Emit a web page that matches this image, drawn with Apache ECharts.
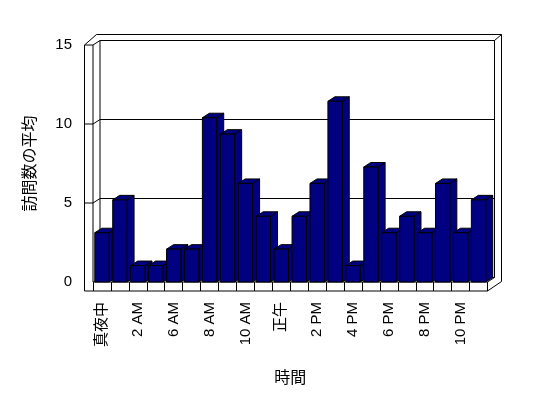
<!DOCTYPE html>
<html>
<head>
<meta charset="utf-8">
<script src="https://cdn.jsdelivr.net/npm/echarts@6/dist/echarts.min.js"></script>
<style>
html, body { margin: 0; padding: 0; background: #fff; }
#main { width: 548px; height: 398px; }
</style>
</head>
<body>
<div id="main"></div>
<script>
// 時間帯ごとの訪問数の平均
var hours = ['真夜中', '1 AM', '2 AM', '4 AM', '6 AM', '7 AM', '8 AM', '9 AM', '10 AM', '11 AM', '正午',
             '1 PM', '2 PM', '3 PM', '4 PM', '5 PM', '6 PM', '7 PM', '8 PM', '9 PM', '10 PM', '11 PM'];
var visits = [3, 5, 1, 1, 2, 2, 10, 9, 6, 4, 2, 4, 6, 11, 1, 7, 3, 4, 3, 6, 3, 5];
var yTicks = [0, 5, 10, 15];

var FONT = '"Liberation Sans", "Noto Sans CJK JP", sans-serif';
var DX = 7, DY = -4.5;   // 奥行き

var myChart = echarts.init(document.getElementById('main'));

// 枠（壁と床）
function renderFrame(params, api) {
    var cs = params.coordSys;
    var L = cs.x, R = cs.x + cs.width, T = cs.y, B = cs.y + cs.height;
    var OL = L - 8.5, FB = B + 9, OT = T + DY - 6, OR = R + DX + 7;
    var st = { stroke: '#000', lineWidth: 1, fill: null };
    var lines = [
        [[OL, FB], [OL, T], [L + 3.5, OT], [OR, OT], [OR, FB - 9.5], [R, FB], [OL, FB]],
        [[L, T], [L, B]],
        [[OL, T], [L, T], [L + DX, T + DY]],
        [[L + DX, T + DY], [L + DX, B + DY]],
        [[L + DX, T + DY], [R + DX, T + DY], [R + DX, B + DY]],
        [[R + DX, T + DY], [OR, OT]],
        [[L, B], [R, B], [R + DX, B + DY]],
        [[R, B], [R, FB]]
    ];
    var children = [];
    lines.forEach(function (pts) {
        children.push({ type: 'polyline', shape: { points: pts }, style: st });
    });
    yTicks.forEach(function (v) {
        if (v === 0 || v === 15) return;
        var y = api.coord([0, v])[1];
        children.push({ type: 'polyline', shape: { points: [[OL, y], [L, y], [L + DX, y + DY]] }, style: st });
    });
    return { type: 'group', children: children };
}

// 立体の棒
function renderBar(params, api) {
    var idx = api.value(0);
    var p0 = api.coord([idx, 0]);
    var p1 = api.coord([idx, api.value(1)]);
    var w = api.size([1, 0])[0] * 0.8;
    var x0 = p0[0] - w / 2, x1 = p0[0] + w / 2;
    var yb = p0[1], yt = p1[1];
    var st = { fill: '#000080', stroke: '#000', lineWidth: 1 };
    return {
        type: 'group',
        children: [
            { type: 'polygon', shape: { points: [[x1, yb], [x1 + DX, yb + DY], [x1 + DX, yt + DY], [x1, yt]] }, style: st },
            { type: 'polygon', shape: { points: [[x0, yt], [x1, yt], [x1 + DX, yt + DY], [x0 + DX, yt + DY]] }, style: st },
            { type: 'rect', shape: { x: x0, y: yt, width: w, height: yb - yt }, style: st }
        ]
    };
}

var option = {
    backgroundColor: '#fff',
    animation: false,
    grid: [
        { left: 93, top: 45, width: 394.5, height: 237 },
        { left: 93 + DX, top: 45 + DY, width: 394.5, height: 237 },
        { left: 93, top: 35.6, width: 394.5, height: 246.4 }
    ],
    xAxis: [
        {
            type: 'category', gridIndex: 0, data: hours,
            name: '時間', nameLocation: 'middle', nameGap: 89,
            nameTextStyle: { fontFamily: FONT, fontSize: 16, color: '#000' },
            axisLine: { show: false },
            axisTick: { show: true, interval: 0, length: 9, lineStyle: { color: '#000' } },
            axisLabel: { interval: 1, rotate: 90, margin: 20, fontFamily: FONT, fontSize: 15, color: '#000' }
        },
        { type: 'category', gridIndex: 1, data: hours, show: false },
        { type: 'category', gridIndex: 2, data: hours, show: false }
    ],
    yAxis: [
        {
            type: 'value', gridIndex: 0, min: 0, max: 15, interval: 5,
            name: '訪問数の平均', nameLocation: 'middle', nameGap: 54, nameRotate: 90,
            nameTextStyle: { fontFamily: FONT, fontSize: 16, color: '#000' },
            axisLine: { show: false }, axisTick: { show: false }, splitLine: { show: false },
            axisLabel: { margin: 21, fontFamily: FONT, fontSize: 15, color: '#000' }
        },
        {
            type: 'value', gridIndex: 1, min: 0, max: 15, interval: 5,
            axisLine: { show: false }, axisTick: { show: false }, axisLabel: { show: false },
            splitLine: { show: true, lineStyle: { color: '#000', width: 1 } }
        },
        { type: 'value', gridIndex: 2, min: 0, max: 15, interval: 5, show: false, splitLine: { show: false } }
    ],
    series: [
        {
            type: 'custom', xAxisIndex: 0, yAxisIndex: 0, z: 1,
            renderItem: renderFrame, data: [[0, 0]], silent: true
        },
        {
            type: 'custom', xAxisIndex: 2, yAxisIndex: 2, z: 3,
            renderItem: renderBar,
            data: visits.map(function (v, i) { return [i, v]; })
        }
    ]
};

myChart.setOption(option);
</script>
</body>
</html>
